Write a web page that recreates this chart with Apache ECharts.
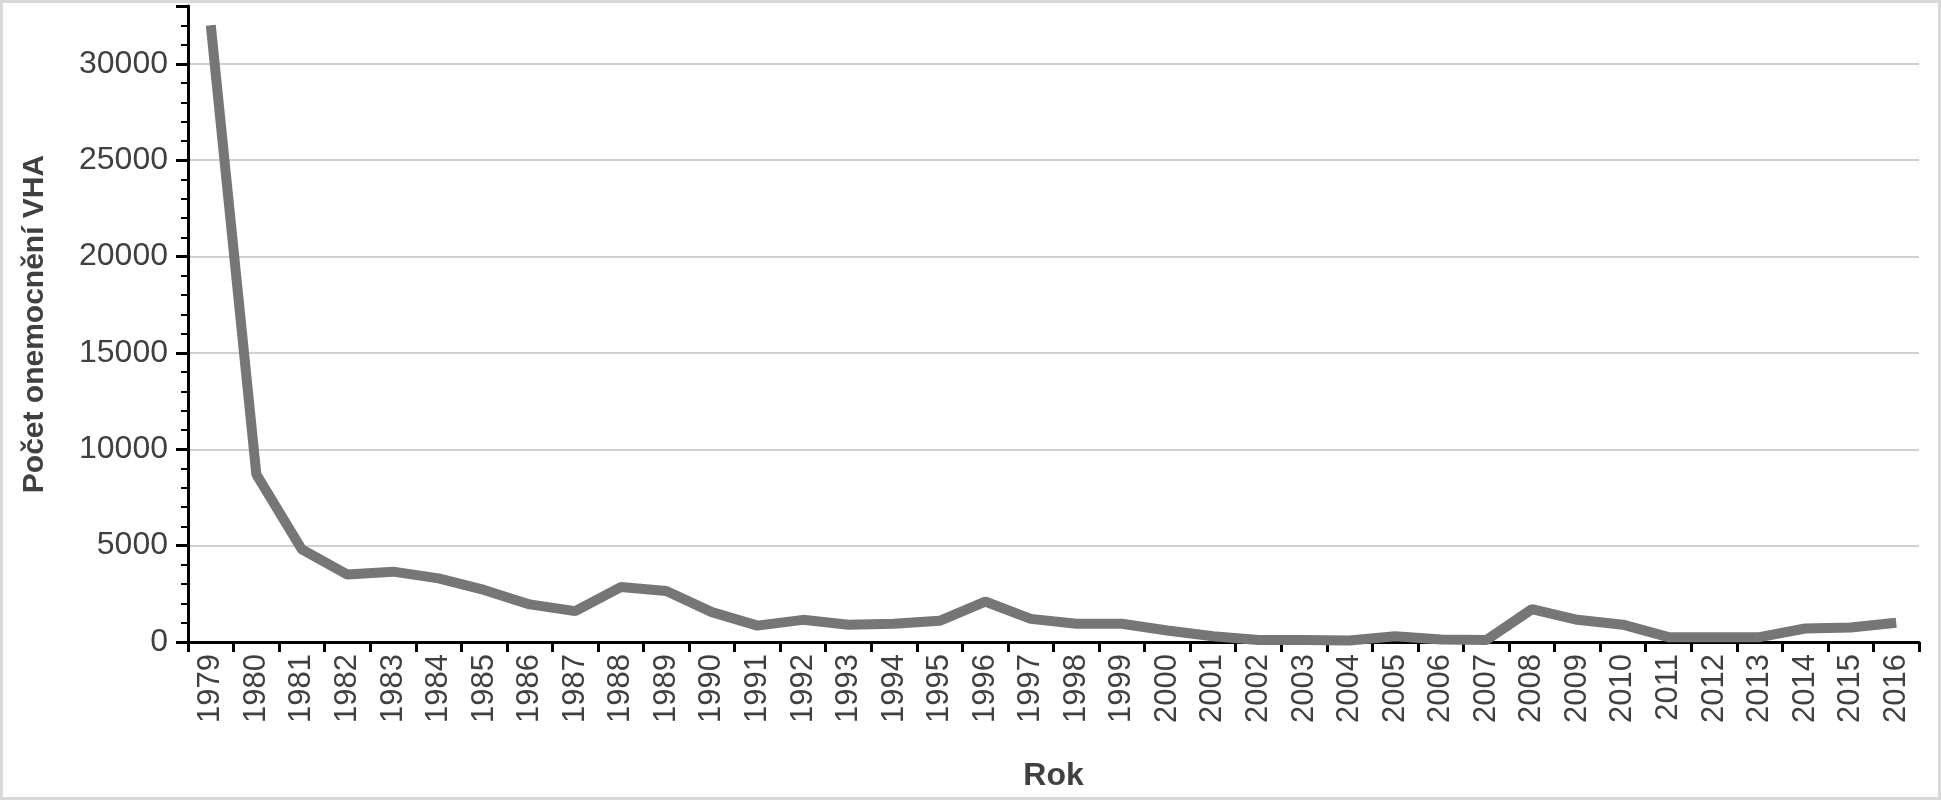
<!DOCTYPE html>
<html><head><meta charset="utf-8">
<script src="https://cdn.jsdelivr.net/npm/echarts@6/dist/echarts.min.js"></script>
<style>html,body{margin:0;padding:0;background:#fff}#c{width:1941px;height:800px;box-sizing:border-box;border:3px solid #d9d9d9}</style>
</head><body><div id="c"></div>
<script>
const years = ['1979','1980','1981','1982','1983','1984','1985','1986','1987','1988','1989','1990','1991','1992','1993','1994','1995','1996','1997','1998','1999','2000','2001','2002','2003','2004','2005','2006','2007','2008','2009','2010','2011','2012','2013','2014','2015','2016'];
const cases = [32000,8700,4800,3500,3650,3300,2700,1950,1600,2850,2650,1550,850,1150,900,950,1100,2100,1200,950,950,600,300,100,100,80,300,130,100,1700,1150,900,250,250,250,700,750,1000];
const chart = echarts.init(document.getElementById('c'));
const txt = {fontFamily:'Liberation Sans', color:'#404040'};
chart.setOption({
  animation:false,
  grid:{left:185,right:19,top:3,bottom:151},
  xAxis:{type:'category',data:years,boundaryGap:true,
    name:'Rok',nameLocation:'middle',nameGap:118,
    nameTextStyle:{...txt,fontSize:32,fontWeight:'bold'},
    axisLine:{lineStyle:{color:'#000',width:3}},
    axisTick:{show:true,length:10,lineStyle:{color:'#000',width:3}},
    axisLabel:{...txt,fontSize:31,rotate:90,interval:0,margin:12}},
  yAxis:{type:'value',min:0,max:33000,interval:5000,
    name:'Počet onemocnění VHA',nameLocation:'middle',nameGap:138,
    nameTextStyle:{...txt,fontSize:30,fontWeight:'bold'},
    axisLine:{show:true,lineStyle:{color:'#000',width:3}},
    axisTick:{show:true,length:12,lineStyle:{color:'#000',width:3}},
    minorTick:{show:true,splitNumber:5,length:7,lineStyle:{color:'#000',width:2}},
    splitLine:{show:true,showMaxLine:false,lineStyle:{color:'#d0d0d0',width:2}},
    axisLabel:{...txt,fontSize:32,margin:20,showMaxLabel:false,formatter:v=>v%5000===0?String(v):''}},
  series:[{type:'line',data:cases,symbol:'none',lineStyle:{color:'#767676',width:10}}]
});
</script></body></html>
